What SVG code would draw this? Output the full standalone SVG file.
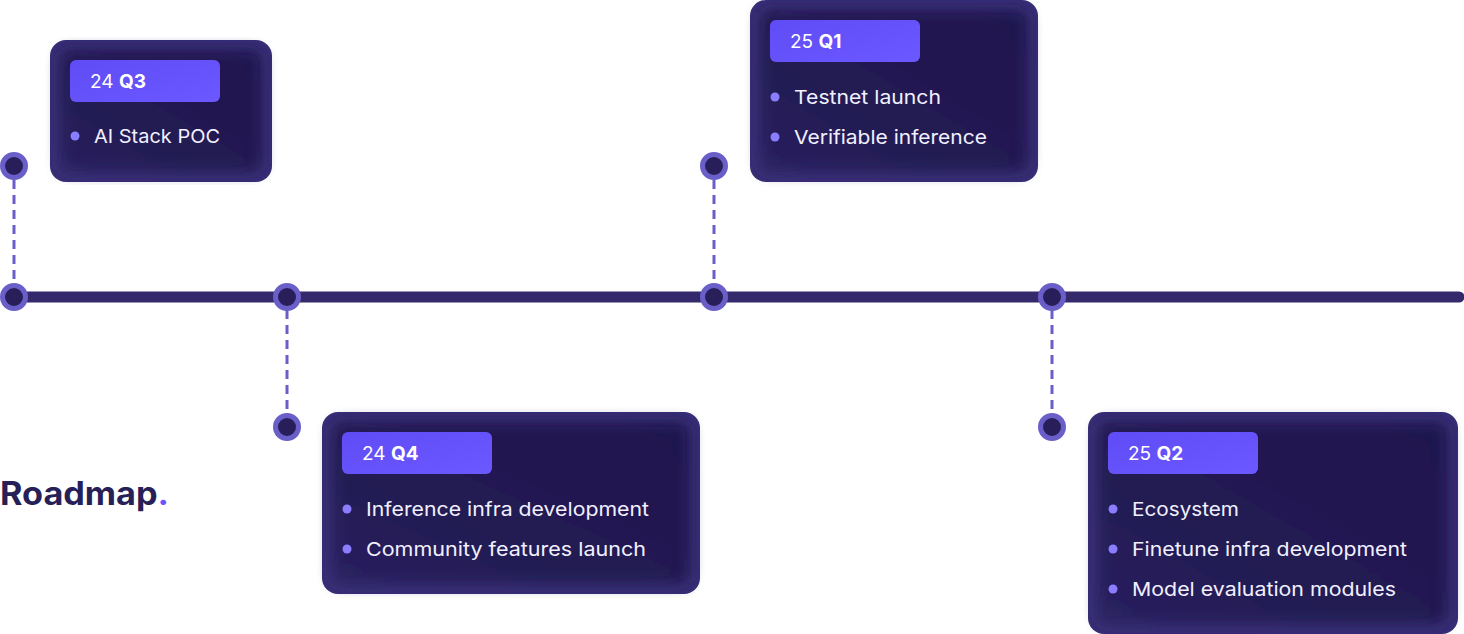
<svg xmlns="http://www.w3.org/2000/svg" width="1464" height="634" viewBox="0 0 1464 634">
<style>
.card{fill:#382f76}
.core{fill:url(#coreg);filter:url(#soft)}
.tag{fill:url(#tagg)}
.tt{font-family:Inter,"Noto Sans",sans-serif;font-size:19px;fill:#ffffff}
.tb{font-weight:700}
.it{font-family:Inter,"Noto Sans",sans-serif;font-size:19px;fill:#f2f0ff}
.bul{fill:#8a7dff}
.dash{stroke:#6a5fc8;stroke-width:3;stroke-dasharray:9 6;fill:none}
.ring{fill:#281f5a;stroke:#6a5fc8;stroke-width:5}
</style>
<defs>
<linearGradient id="tagg" x1="0" y1="0" x2="1" y2="1">
<stop offset="0" stop-color="#5f4cf6"/><stop offset="1" stop-color="#6c58ff"/>
</linearGradient>
<linearGradient id="coreg" x1="1" y1="0" x2="0" y2="1">
<stop offset="0" stop-color="#1f1750"/><stop offset="0.6" stop-color="#221a52"/><stop offset="1" stop-color="#2a2160"/>
</linearGradient>
<filter id="soft" x="-10%" y="-10%" width="120%" height="120%">
<feGaussianBlur stdDeviation="7"/>
</filter>
</defs>
<rect width="1464" height="634" fill="#ffffff"/>
<g id="connectors">
<line x1="14" y1="297" x2="1459" y2="297" stroke="#342a6b" stroke-width="11" stroke-linecap="round"/>
<line class="dash" x1="14" y1="180" x2="14" y2="284"/>
<line class="dash" x1="714" y1="180" x2="714" y2="284"/>
<line class="dash" x1="287" y1="310" x2="287" y2="414"/>
<line class="dash" x1="1052" y1="310" x2="1052" y2="414"/>
<circle class="ring" cx="14" cy="297" r="11.5"/>
<circle class="ring" cx="287" cy="297" r="11.5"/>
<circle class="ring" cx="714" cy="297" r="11.5"/>
<circle class="ring" cx="1052" cy="297" r="11.5"/>
<circle class="ring" cx="14" cy="166" r="11.5"/>
<circle class="ring" cx="714" cy="166" r="11.5"/>
<circle class="ring" cx="287" cy="427" r="11.5"/>
<circle class="ring" cx="1052" cy="427" r="11.5"/>
</g>
<g id="q3">
<rect class="card" x="50" y="40" width="222" height="142" rx="16"/>
<rect class="core" x="60" y="50" width="202" height="122" rx="10"/>
<rect class="tag" x="70" y="60" width="150" height="42" rx="6"/>
<text class="tt" x="90" y="88">24 <tspan class="tb">Q3</tspan></text>
<circle class="bul" cx="75" cy="136" r="4.5"/>
<text class="it" x="94" y="143" textLength="126" lengthAdjust="spacingAndGlyphs">AI Stack POC</text>
</g>
<g id="q4">
<rect class="card" x="322" y="412" width="378" height="182" rx="16"/>
<rect class="core" x="332" y="422" width="358" height="162" rx="10"/>
<rect class="tag" x="342" y="432" width="150" height="42" rx="6"/>
<text class="tt" x="362" y="460">24 <tspan class="tb">Q4</tspan></text>
<circle class="bul" cx="347" cy="509" r="4.5"/>
<text class="it" x="366" y="516" textLength="283" lengthAdjust="spacingAndGlyphs">Inference infra development</text>
<circle class="bul" cx="347" cy="549" r="4.5"/>
<text class="it" x="366" y="556" textLength="280" lengthAdjust="spacingAndGlyphs">Community features launch</text>
</g>
<g id="q1">
<rect class="card" x="750" y="0" width="288" height="182" rx="16"/>
<rect class="core" x="760" y="10" width="268" height="162" rx="10"/>
<rect class="tag" x="770" y="20" width="150" height="42" rx="6"/>
<text class="tt" x="790" y="48">25 <tspan class="tb">Q1</tspan></text>
<circle class="bul" cx="775" cy="97" r="4.5"/>
<text class="it" x="794" y="104" textLength="147" lengthAdjust="spacingAndGlyphs">Testnet launch</text>
<circle class="bul" cx="775" cy="137" r="4.5"/>
<text class="it" x="794" y="144" textLength="193" lengthAdjust="spacingAndGlyphs">Verifiable inference</text>
</g>
<g id="q2">
<rect class="card" x="1088" y="412" width="370" height="222" rx="16"/>
<rect class="core" x="1098" y="422" width="350" height="202" rx="10"/>
<rect class="tag" x="1108" y="432" width="150" height="42" rx="6"/>
<text class="tt" x="1128" y="460">25 <tspan class="tb">Q2</tspan></text>
<circle class="bul" cx="1113" cy="509" r="4.5"/>
<text class="it" x="1132" y="516" textLength="107" lengthAdjust="spacingAndGlyphs">Ecosystem</text>
<circle class="bul" cx="1113" cy="549" r="4.5"/>
<text class="it" x="1132" y="556" textLength="275" lengthAdjust="spacingAndGlyphs">Finetune infra development</text>
<circle class="bul" cx="1113" cy="589" r="4.5"/>
<text class="it" x="1132" y="596" textLength="264" lengthAdjust="spacingAndGlyphs">Model evaluation modules</text>
</g>
<g id="title">
<text x="0" y="505" font-family="Inter,'Noto Sans',sans-serif" font-size="32" font-weight="700" fill="#271f58" textLength="169" lengthAdjust="spacingAndGlyphs">Roadmap<tspan fill="#6a52ff">.</tspan></text>
</g>
</svg>
